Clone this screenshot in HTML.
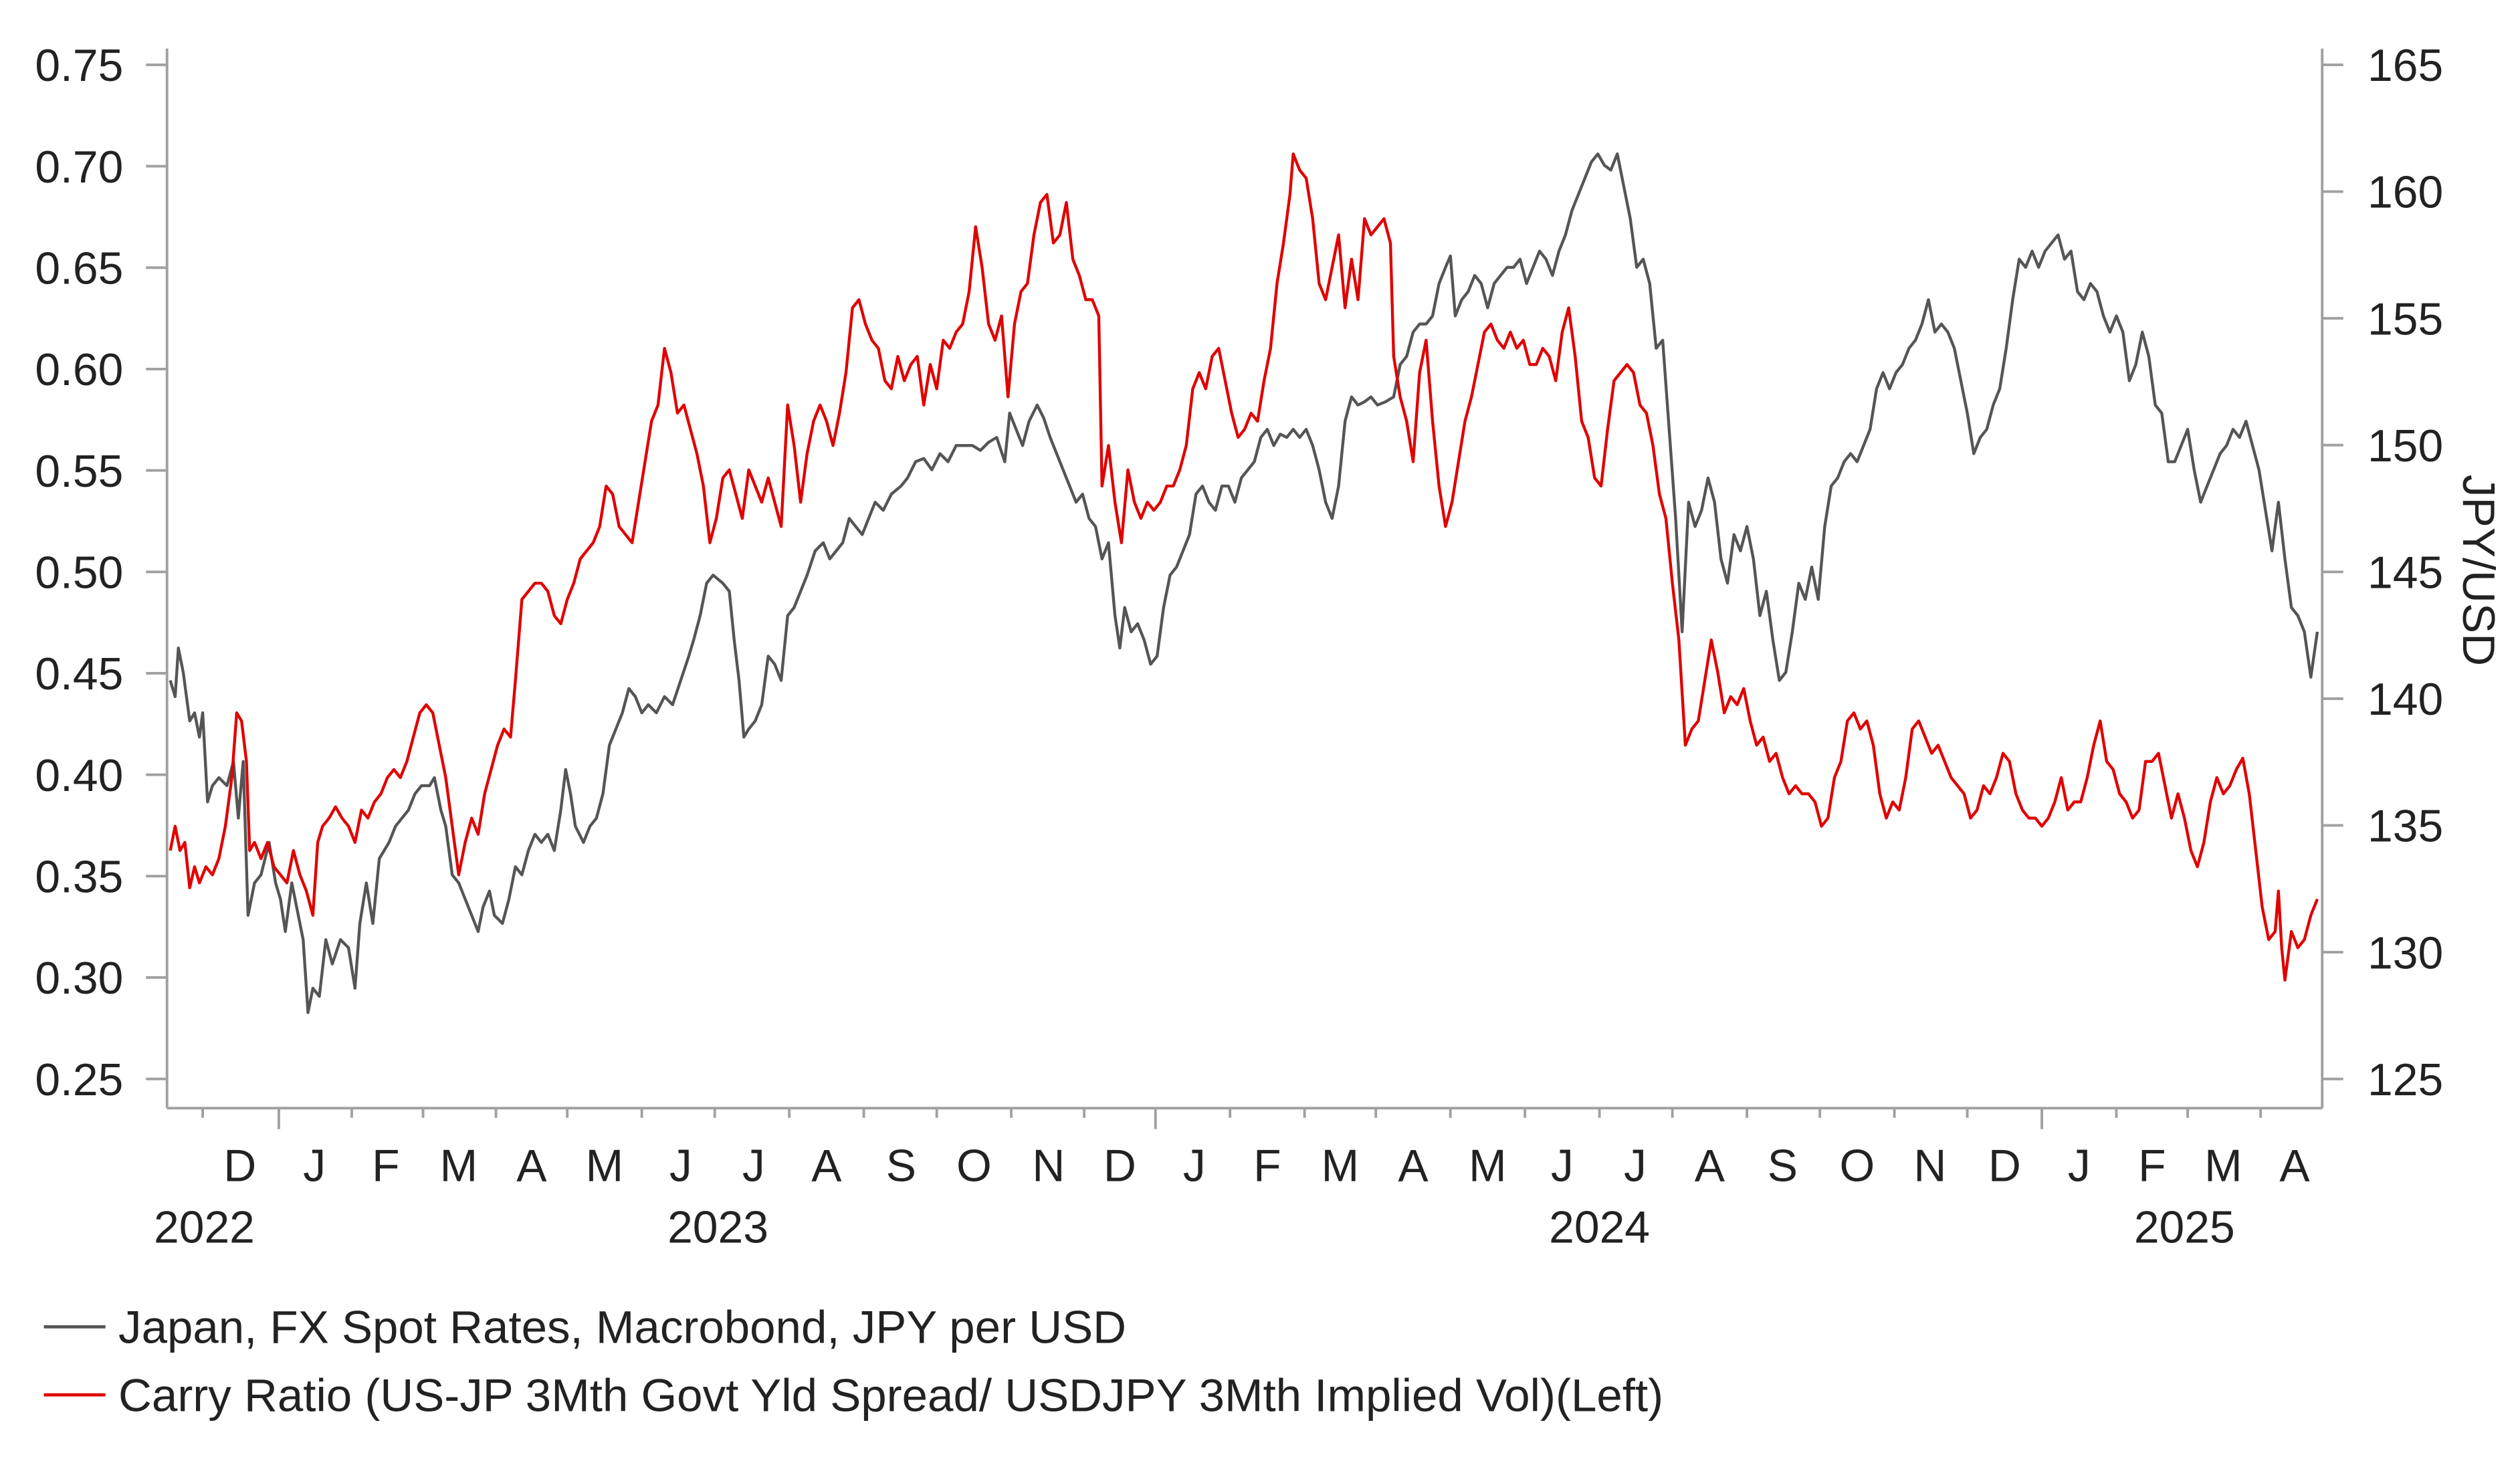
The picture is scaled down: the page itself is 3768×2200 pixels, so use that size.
<!DOCTYPE html>
<html><head><meta charset="utf-8"><style>
html,body{margin:0;padding:0;background:#fff;}
svg{display:block;}
text{font-family:"Liberation Sans",Arial,sans-serif;fill:#222;}
</style></head><body>
<svg width="3768" height="2200" viewBox="0 0 1555 908" xmlns="http://www.w3.org/2000/svg">
<rect width="1555" height="908" fill="#fff"/>
<g stroke="#a0a0a0" stroke-width="1.6" fill="none">
<line x1="103" y1="30" x2="103" y2="684"/>
<line x1="1433" y1="30" x2="1433" y2="684"/>
<line x1="103" y1="684" x2="1433" y2="684"/>
<path d="M90 40H103M90 102.6H103M90 165.2H103M90 227.8H103M90 290.4H103M90 353H103M90 415.6H103M90 478.2H103M90 540.8H103M90 603.4H103M90 666H103"/>
<path d="M1433 40H1446M1433 118.25H1446M1433 196.5H1446M1433 274.75H1446M1433 353H1446M1433 431.25H1446M1433 509.5H1446M1433 587.75H1446M1433 666H1446"/>
<path d="M172 684V697M713 684V697M1260 684V697"/>
<path d="M125 684V690M217 684V690M261 684V690M306 684V690M350 684V690M396 684V690M441 684V690M487 684V690M533 684V690M578 684V690M624 684V690M669 684V690M759 684V690M805 684V690M849 684V690M895 684V690M941 684V690M987 684V690M1032 684V690M1078 684V690M1123 684V690M1169 684V690M1214 684V690M1306 684V690M1350 684V690M1395 684V690"/>
</g>
<g font-size="28" text-anchor="end">
<text x="76" y="50">0.75</text><text x="76" y="112.6">0.70</text><text x="76" y="175.2">0.65</text><text x="76" y="237.8">0.60</text><text x="76" y="300.4">0.55</text><text x="76" y="363">0.50</text><text x="76" y="425.6">0.45</text><text x="76" y="488.2">0.40</text><text x="76" y="550.8">0.35</text><text x="76" y="613.4">0.30</text><text x="76" y="676">0.25</text>
</g>
<g font-size="28" text-anchor="start">
<text x="1461" y="50">165</text><text x="1461" y="128.25">160</text><text x="1461" y="206.5">155</text><text x="1461" y="284.75">150</text><text x="1461" y="363">145</text><text x="1461" y="441.25">140</text><text x="1461" y="519.5">135</text><text x="1461" y="597.75">130</text><text x="1461" y="676">125</text>
</g>
<text x="1520" y="352" font-size="28" text-anchor="middle" transform="rotate(90 1520 352)">JPY/USD</text>
<g font-size="28" text-anchor="middle">
<text x="148" y="729">D</text><text x="194" y="729">J</text><text x="238" y="729">F</text><text x="283" y="729">M</text><text x="328" y="729">A</text><text x="373" y="729">M</text><text x="420" y="729">J</text><text x="465" y="729">J</text><text x="510" y="729">A</text><text x="556" y="729">S</text><text x="601" y="729">O</text><text x="647" y="729">N</text><text x="691" y="729">D</text><text x="737" y="729">J</text><text x="782" y="729">F</text><text x="827" y="729">M</text><text x="872" y="729">A</text><text x="918" y="729">M</text><text x="964" y="729">J</text><text x="1009" y="729">J</text><text x="1055" y="729">A</text><text x="1100" y="729">S</text><text x="1146" y="729">O</text><text x="1191" y="729">N</text><text x="1237" y="729">D</text><text x="1283" y="729">J</text><text x="1328" y="729">F</text><text x="1372" y="729">M</text><text x="1416" y="729">A</text>
<text x="126" y="767">2022</text><text x="443" y="767">2023</text><text x="987" y="767">2024</text><text x="1348" y="767">2025</text>
</g>
<polyline fill="none" stroke="#555" stroke-width="1.8" stroke-linejoin="round" points="105,420 108,430 110,400 113,415 117,445 120,440 123,455 125,440 128,495 131,485 135,480 140,485 144,470 147,505 150,470 153,565 157,545 161,540 166,520 170,545 173,555 176,575 180,545 183,560 187,580 190,625 193,610 197,615 201,580 205,595 210,580 215,585 219,610 222,570 226,545 230,570 234,530 240,520 244,510 248,505 252,500 256,490 260,485 265,485 268,480 272,500 275,510 279,540 283,545 287,555 291,565 295,575 298,560 302,550 305,565 310,570 314,555 318,535 322,540 326,525 330,515 334,520 338,515 342,525 346,500 349,475 352,490 355,510 360,520 364,510 368,505 372,490 376,460 380,450 384,440 388,425 392,430 396,440 400,435 405,440 410,430 415,435 420,420 425,405 428,395 432,380 436,360 440,355 446,360 450,365 453,395 456,420 459,455 462,450 466,445 470,435 474,405 478,410 482,420 486,380 490,375 494,365 498,355 503,340 508,335 512,345 516,340 520,335 524,320 528,325 532,330 536,320 540,310 545,315 550,305 556,300 560,295 565,285 570,283 575,290 580,280 585,285 590,275 595,275 600,275 605,278 610,273 615,270 620,285 623,255 627,265 631,275 635,260 640,250 644,258 648,270 652,280 656,290 660,300 664,310 668,305 672,320 676,325 680,345 684,335 688,380 691,400 694,375 698,390 702,385 706,395 710,410 714,405 718,375 722,355 726,350 730,340 734,330 738,305 742,300 746,310 750,315 754,300 758,300 762,310 766,295 770,290 774,285 778,270 782,265 786,275 790,268 794,270 798,265 802,270 806,265 810,275 814,290 818,310 822,320 826,300 830,260 834,245 838,250 842,248 846,245 850,250 855,248 860,245 864,225 868,220 872,205 876,200 880,200 884,195 888,175 892,165 895,158 898,195 902,185 906,180 910,170 914,175 918,190 922,175 926,170 930,165 934,165 938,160 942,175 946,165 950,155 954,160 958,170 962,155 966,145 970,130 974,120 978,110 982,100 986,95 990,102 994,105 998,95 1002,115 1006,135 1010,165 1014,160 1018,175 1022,215 1026,210 1030,265 1034,320 1038,390 1042,310 1046,325 1050,315 1054,295 1058,310 1062,345 1066,360 1070,330 1074,340 1078,325 1082,345 1086,380 1090,365 1094,395 1098,420 1102,415 1106,390 1110,360 1114,370 1118,350 1122,370 1126,325 1130,300 1134,295 1138,285 1142,280 1146,285 1150,275 1154,265 1158,240 1162,230 1166,240 1170,230 1174,225 1178,215 1182,210 1186,200 1190,185 1194,205 1198,200 1202,205 1206,215 1210,235 1214,255 1218,280 1222,270 1226,265 1230,250 1234,240 1238,215 1242,185 1246,160 1250,165 1254,155 1258,165 1262,155 1266,150 1270,145 1274,160 1278,155 1282,180 1286,185 1290,175 1294,180 1298,195 1302,205 1306,195 1310,205 1314,235 1318,225 1322,205 1326,220 1330,250 1334,255 1338,285 1342,285 1346,275 1350,265 1354,290 1358,310 1362,300 1366,290 1370,280 1374,275 1378,265 1382,270 1386,260 1390,275 1394,290 1398,315 1402,340 1406,310 1410,345 1414,375 1418,380 1422,390 1426,418 1430,390"/>
<polyline fill="none" stroke="#e00000" stroke-width="1.8" stroke-linejoin="round" points="105,525 108,510 111,525 114,520 117,548 120,535 123,545 127,535 131,540 135,530 139,510 143,480 146,440 149,445 152,470 154,525 157,520 161,530 165,520 169,535 173,540 177,545 181,525 185,540 189,550 193,565 196,520 199,510 203,505 207,498 211,505 215,510 219,520 223,500 227,505 231,495 235,490 239,480 243,475 247,480 251,470 255,455 259,440 263,435 267,440 271,460 275,480 279,510 283,540 287,520 291,505 295,515 299,490 303,475 307,460 311,450 315,455 318,420 322,370 326,365 330,360 334,360 338,365 342,380 346,385 350,370 354,360 358,345 362,340 366,335 370,325 374,300 378,305 382,325 386,330 390,335 394,310 398,285 402,260 406,250 410,215 414,230 418,255 422,250 426,265 430,280 434,300 438,335 442,320 446,295 450,290 454,305 458,320 462,290 466,300 470,310 474,295 478,310 482,325 486,250 490,275 494,310 498,280 502,260 506,250 510,260 514,275 518,255 522,230 526,190 530,185 534,200 538,210 542,215 546,235 550,240 554,220 558,235 562,225 566,220 570,250 574,225 578,240 582,210 586,215 590,205 594,200 598,180 602,140 606,165 610,200 614,210 618,195 622,245 626,200 630,180 634,175 638,145 642,125 646,120 650,150 654,145 658,125 662,160 666,170 670,185 674,185 678,195 680,300 684,275 688,310 692,335 696,290 700,310 704,320 708,310 712,315 716,310 720,300 724,300 728,290 732,275 736,240 740,230 744,240 748,220 752,215 756,235 760,255 764,270 768,265 772,255 776,260 780,235 784,215 788,175 792,150 796,120 798,95 802,105 806,110 810,135 814,175 818,185 822,165 826,145 830,190 834,160 838,185 842,135 846,145 850,140 854,135 858,150 860,220 864,245 868,260 872,285 876,230 880,210 884,260 888,300 892,325 896,310 900,285 904,260 908,245 912,225 916,205 920,200 924,210 928,215 932,205 936,215 940,210 944,225 948,225 952,215 956,220 960,235 964,205 968,190 972,220 976,260 980,270 984,295 988,300 992,265 996,235 1000,230 1004,225 1008,230 1012,250 1016,255 1020,275 1024,305 1028,320 1032,360 1036,395 1040,460 1044,450 1048,445 1052,420 1056,395 1060,415 1064,440 1068,430 1072,435 1076,425 1080,445 1084,460 1088,455 1092,470 1096,465 1100,480 1104,490 1108,485 1112,490 1116,490 1120,495 1124,510 1128,505 1132,480 1136,470 1140,445 1144,440 1148,450 1152,445 1156,460 1160,490 1164,505 1168,495 1172,500 1176,480 1180,450 1184,445 1188,455 1192,465 1196,460 1200,470 1204,480 1208,485 1212,490 1216,505 1220,500 1224,485 1228,490 1232,480 1236,465 1240,470 1244,490 1248,500 1252,505 1256,505 1260,510 1264,505 1268,495 1272,480 1276,500 1280,495 1284,495 1288,480 1292,460 1296,445 1300,470 1304,475 1308,490 1312,495 1316,505 1320,500 1324,470 1328,470 1332,465 1336,485 1340,505 1344,490 1348,505 1352,525 1356,535 1360,520 1364,495 1368,480 1372,490 1376,485 1380,475 1384,468 1388,490 1392,525 1396,560 1400,580 1404,575 1406,550 1408,585 1410,605 1414,575 1418,585 1422,580 1426,565 1430,555"/>
<line x1="27" y1="819" x2="65" y2="819" stroke="#555" stroke-width="2"/>
<line x1="27" y1="861" x2="65" y2="861" stroke="#e00000" stroke-width="2"/>
<text x="73" y="829" font-size="28.5">Japan, FX Spot Rates, Macrobond, JPY per USD</text>
<text x="73" y="871" font-size="28.5">Carry Ratio (US-JP 3Mth Govt Yld Spread/ USDJPY 3Mth Implied Vol)(Left)</text>
</svg>
</body></html>
